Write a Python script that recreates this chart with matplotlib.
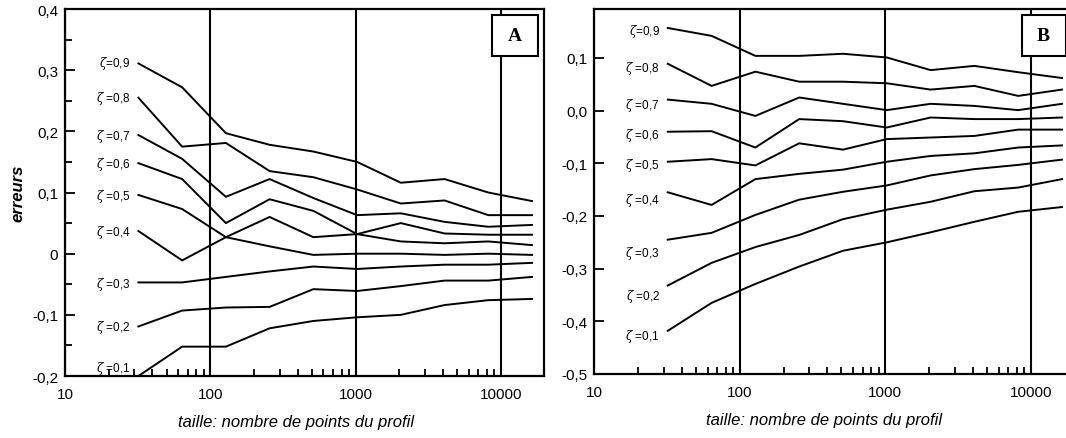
import matplotlib
matplotlib.use("Agg")
import matplotlib.pyplot as plt
from matplotlib.patches import Rectangle
from matplotlib.ticker import LogLocator, NullFormatter, FuncFormatter, MultipleLocator

plt.rcParams['font.family'] = ['Liberation Sans', 'DejaVu Sans']
plt.rcParams['mathtext.fontset'] = 'dejavuserif'

# taille des profils (nombre de points)
taille = [32, 64, 128, 256, 512, 1024, 2048, 4096, 8192, 16384]
zetas = ["0,9", "0,8", "0,7", "0,6", "0,5", "0,4", "0,3", "0,2", "0,1"]

erreurs_A = [
    [0.311, 0.272, 0.197, 0.178, 0.167, 0.150, 0.116, 0.122, 0.100, 0.086],
    [0.255, 0.175, 0.181, 0.135, 0.125, 0.105, 0.082, 0.087, 0.063, 0.063],
    [0.194, 0.155, 0.093, 0.122, 0.091, 0.063, 0.066, 0.052, 0.044, 0.047],
    [0.148, 0.122, 0.050, 0.089, 0.070, 0.032, 0.020, 0.017, 0.020, 0.014],
    [0.096, 0.073, 0.027, 0.012, -0.002, 0.000, 0.000, -0.002, 0.000, -0.002],
    [0.037, -0.011, 0.027, 0.060, 0.027, 0.032, 0.050, 0.033, 0.031, 0.031],
    [-0.047, -0.047, -0.038, -0.029, -0.021, -0.025, -0.021, -0.018, -0.018, -0.015],
    [-0.119, -0.093, -0.088, -0.087, -0.058, -0.061, -0.053, -0.044, -0.044, -0.038],
    [-0.200, -0.152, -0.152, -0.122, -0.110, -0.104, -0.100, -0.084, -0.076, -0.074],
]

erreurs_B = [
    [0.157, 0.142, 0.104, 0.104, 0.108, 0.101, 0.077, 0.085, 0.073, 0.062],
    [0.089, 0.047, 0.074, 0.055, 0.055, 0.052, 0.040, 0.047, 0.028, 0.040],
    [0.021, 0.013, -0.010, 0.025, 0.013, 0.001, 0.013, 0.009, 0.001, 0.013],
    [-0.040, -0.039, -0.070, -0.016, -0.020, -0.032, -0.013, -0.016, -0.016, -0.013],
    [-0.097, -0.092, -0.104, -0.062, -0.074, -0.054, -0.051, -0.048, -0.036, -0.036],
    [-0.155, -0.179, -0.130, -0.120, -0.112, -0.097, -0.086, -0.081, -0.070, -0.066],
    [-0.245, -0.232, -0.198, -0.169, -0.154, -0.142, -0.123, -0.111, -0.103, -0.093],
    [-0.332, -0.289, -0.259, -0.236, -0.206, -0.188, -0.173, -0.153, -0.146, -0.130],
    [-0.418, -0.365, -0.329, -0.296, -0.266, -0.250, -0.231, -0.211, -0.192, -0.183],
]

yticks_A = [-0.2, -0.1, 0.0, 0.1, 0.2, 0.3, 0.4]
ylabels_A = ["-0,2", "-0,1", "0", "0,1", "0,2", "0,3", "0,4"]
yticks_B = [-0.5, -0.4, -0.3, -0.2, -0.1, 0.0, 0.1]
ylabels_B = ["-0,5", "-0,4", "-0,3", "-0,2", "-0,1", "0,0", "0,1"]

# decalage vertical des etiquettes zeta (pixels)
decal_A = [1, 0, 0, 0, -1, 0, -1, 0, 9]
decal_B = [-3, -4, -5, -3, -3, -7, -13, -10, -5]

fig = plt.figure(figsize=(10.66, 4.39), dpi=100)
axA = fig.add_axes([0.061, 0.1412, 0.4493, 0.836])
axB = fig.add_axes([0.5575, 0.1458, 0.4425, 0.8314])

panneaux = [
    (axA, erreurs_A, decal_A, yticks_A, ylabels_A, (-0.2, 0.4), 19800, "A"),
    (axB, erreurs_B, decal_B, yticks_B, ylabels_B, (-0.5, 0.193), 17460, "B"),
]

for ax, erreurs, decal, yt, yl, ylim, xmax, lettre in panneaux:
    for z, serie, dy in zip(zetas, erreurs, decal):
        ax.plot(taille, serie, color='black', lw=1.4)
        sep = "" if z == "0,9" else " "
        ax.annotate(r"$\zeta$" + sep + "=" + z, xy=(taille[0], serie[0]),
                    xytext=(-8, dy), textcoords='offset pixels',
                    ha='right', va='center', fontsize=8.5)

    ax.set_xscale('log')
    ax.set_xlim(10, xmax)
    ax.set_ylim(*ylim)
    ax.xaxis.set_major_locator(LogLocator(base=10))
    ax.xaxis.set_minor_locator(LogLocator(base=10, subs=range(2, 10)))
    ax.xaxis.set_minor_formatter(NullFormatter())
    ax.xaxis.set_major_formatter(FuncFormatter(lambda v, _: f"{v:g}"))
    ax.set_yticks(yt)
    ax.set_yticklabels(yl)
    ax.grid(axis='x', which='major', color='black', lw=1.5)
    ax.tick_params(which='major', direction='in', length=7, width=1.3,
                   labelsize=11, pad=5)
    ax.tick_params(axis='x', which='major', pad=8)
    ax.tick_params(which='minor', direction='in', length=5, width=1.3)
    for s in ax.spines.values():
        s.set_linewidth(1.6)

    ax.set_xlabel("taille: nombre de points du profil", fontsize=12,
                  style='italic', va='center')

    # cadre de la lettre du panneau
    if lettre == "A":
        bx, by, bw, bh = 0.891, 0.872, 0.096, 0.112
    else:
        bx, by, bw, bh = 0.906, 0.872, 0.093, 0.112
    ax.add_patch(Rectangle((bx, by), bw, bh, transform=ax.transAxes,
                           facecolor='white', edgecolor='black', lw=1.5,
                           zorder=5))
    ax.text(bx + bw / 2, by + bh / 2, lettre, transform=ax.transAxes,
            ha='center', va='center', fontsize=14, fontweight='bold',
            family='Liberation Serif', zorder=6)

axA.yaxis.set_minor_locator(MultipleLocator(0.05))
axA.xaxis.set_label_coords(0.482, -0.125)
axB.xaxis.set_label_coords(0.487, -0.126)
axB.yaxis.set_minor_locator(plt.NullLocator())
axB.spines['right'].set_visible(False)

axA.set_ylabel("erreurs", fontsize=12, style='italic', fontweight='bold',
               va='center')
axA.yaxis.set_label_coords(-0.099, 0.5)

fig.savefig("out.png", dpi=100)
